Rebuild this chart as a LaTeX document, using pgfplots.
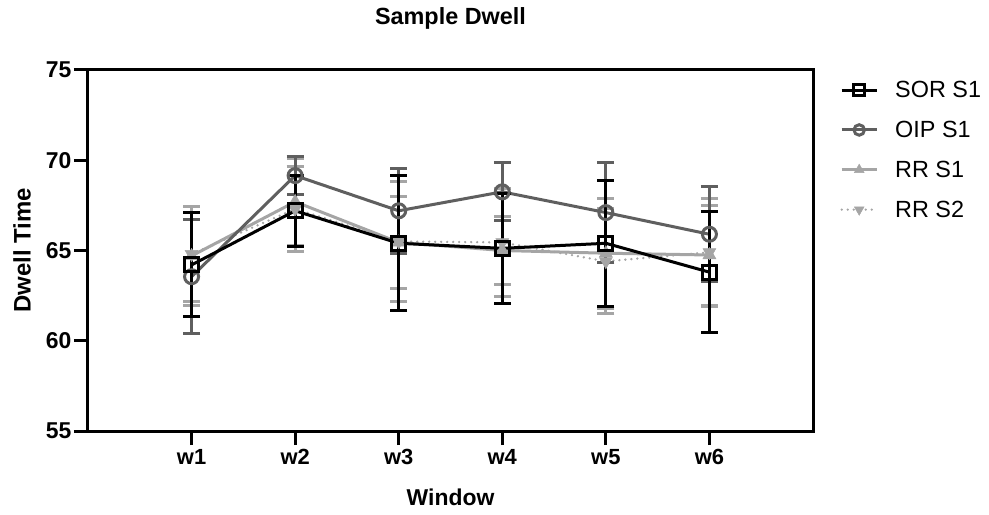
\documentclass[border=0pt]{standalone}
\usepackage{pgfplots}
\pgfplotsset{compat=1.18}
\usepackage{pgfplotstable}
\usepackage{fontspec}
\setmainfont{Liberation Sans}
\definecolor{oipc}{RGB}{95,95,95}
\definecolor{rrc}{RGB}{165,165,165}

\pgfplotstableread{
x y e
1 64.20 2.88
2 67.20 1.97
3 65.40 3.73
4 65.12 3.03
5 65.40 3.50
6 63.80 3.37
}\sor
\pgfplotstableread{
x y e
1 63.55 3.16
2 69.15 1.05
3 67.20 2.35
4 68.25 1.60
5 67.10 2.77
6 65.90 2.64
}\oip
\pgfplotstableread{
x y e
1 64.70 2.75
2 67.70 2.40
3 65.45 2.55
4 65.00 1.90
5 64.85 3.05
6 64.75 2.77
}\rra
\pgfplotstableread{
x y e
1 64.80 2.64
2 67.30 2.35
3 65.50 3.30
4 65.45 3.00
5 64.40 2.90
6 64.90 3.00
}\rrb

\begin{document}
\begin{tikzpicture}
\useasboundingbox (-88bp,-84bp) rectangle (901bp,431bp);
\begin{axis}[
  at={(0bp,0bp)}, anchor=south west,
  scale only axis, width=725bp, height=361bp,
  xmin=0, xmax=7, ymin=55, ymax=75,
  xtick={1,2,3,4,5,6}, xticklabels={w1,w2,w3,w4,w5,w6},
  ytick={55,60,65,70,75}, yticklabels={55,60,65,70,75},
  tick align=outside, major tick length=14bp,
  xtick pos=bottom, ytick pos=left,
  axis line style={line width=3bp},
  tick style={line width=3bp, black},
  xticklabel style={font=\fontsize{22}{26}\selectfont\bfseries, yshift=-1bp},
  yticklabel style={font=\fontsize{23}{26}\selectfont\bfseries, xshift=1bp},
  title={\bfseries Sample Dwell},
  title style={font=\fontsize{23.5}{27}\selectfont, at={(rel axis cs:0.5,1)}, anchor=base, yshift=40bp},
  xlabel={\bfseries Window},
  xlabel style={font=\fontsize{23}{26}\selectfont, at={(rel axis cs:0.5,-0.183)}, anchor=center},
  ylabel={\bfseries Dwell Time},
  ylabel style={font=\fontsize{24}{26}\selectfont, at={(rel axis cs:-0.091,0.5)}, anchor=center},
  clip=false,
  reverse legend,
  legend cell align=left,
  legend style={draw=none, fill=none, at={(rel axis cs:1,1)}, anchor=north west,
    xshift=27bp, yshift=-10bp, row sep=20bp,
    font=\fontsize{23.5}{26}\selectfont, inner sep=0pt,
    nodes={inner sep=1bp},
    /tikz/every odd column/.append style={column sep=16bp}},
  legend image code/.code={
    \draw[mark repeat=2,mark phase=2, every mark/.append style={scale=0.75}] plot coordinates {(0bp,0bp)(17.5bp,0bp)(35bp,0bp)};},
  error bars/y dir=both, error bars/y explicit,
]
% RR S2
\addplot[rrc, line width=2.6bp, dash pattern=on 0pt off 6bp, line cap=round,
  mark=triangle*, mark size=7.5bp,
  mark options={solid, fill=rrc, draw=rrc, line width=0.5bp, rotate=180},
  error bars/error bar style={solid, line width=3bp, rrc, line cap=butt},
  error bars/error mark options={rotate=90, mark size=8.5bp, line width=3bp, rrc, solid}]
  table[x=x, y=y, y error=e] {\rrb};
\addlegendentry{RR S2}
% RR S1
\addplot[rrc, line width=3bp,
  mark=triangle*, mark size=7.5bp,
  mark options={solid, fill=rrc, draw=rrc, line width=0.5bp},
  error bars/error bar style={line width=3bp, rrc},
  error bars/error mark options={rotate=90, mark size=8.5bp, line width=3bp, rrc}]
  table[x=x, y=y, y error=e] {\rra};
\addlegendentry{RR S1}
% OIP S1
\addplot[oipc, line width=3bp,
  mark=o, mark size=7bp,
  mark options={solid, fill=none, draw=oipc, line width=3bp},
  error bars/error bar style={line width=3bp, oipc},
  error bars/error mark options={rotate=90, mark size=8.5bp, line width=3bp, oipc}]
  table[x=x, y=y, y error=e] {\oip};
\addlegendentry{OIP S1}
% SOR S1
\addplot[black, line width=3bp,
  mark=square, mark size=7bp,
  mark options={solid, fill=none, draw=black, line width=3bp},
  error bars/error bar style={line width=3bp, black},
  error bars/error mark options={rotate=90, mark size=8.5bp, line width=3bp, black}]
  table[x=x, y=y, y error=e] {\sor};
\addlegendentry{SOR S1}
\end{axis}
\end{tikzpicture}
\end{document}
